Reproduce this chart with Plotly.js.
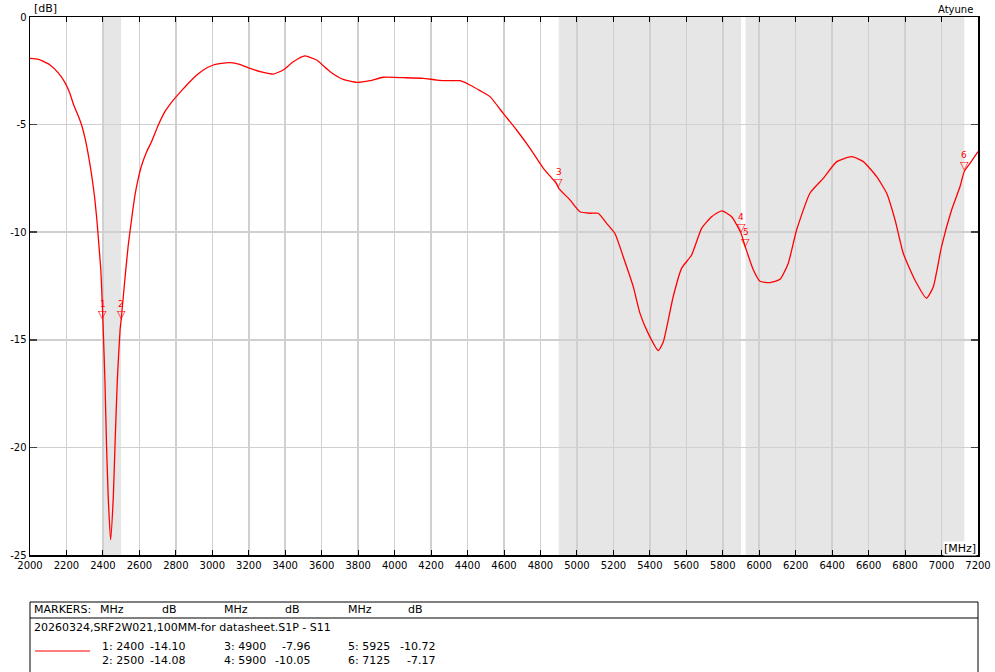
<!DOCTYPE html>
<html>
<head>
<meta charset="utf-8">
<script src="https://cdn.plot.ly/plotly-3.0.1.min.js"></script>
<style>html,body{margin:0;padding:0;background:#fff;}#chart{width:995px;height:672px;}</style>
</head>
<body>
<div id="chart"></div>
<script>
// ---- data ----
const freqMHz = [2000,2046,2110,2155,2192,2219,2238,2265,2283,2302,2320,2338,2353,2366,2378,2389,2400,2411,2420,2429,2442,2457,2466,2479,2494,2500,2521,2539,2558,2576,2594,2613,2640,2667,2704,2740,2786,2823,2850,2878,2915,2951,3005,3050,3097,3150,3207,3280,3335,3389,3444,3508,3572,3646,3718,3792,3865,3938,4048,4157,4231,4304,4359,4413,4468,4523,4596,4669,4743,4816,4889,4900,4962,5017,5072,5117,5163,5209,5254,5309,5346,5391,5446,5474,5528,5574,5629,5684,5739,5794,5849,5900,5925,5968,6004,6059,6114,6159,6205,6278,6351,6425,6507,6571,6644,6699,6745,6790,6854,6918,6955,7000,7055,7101,7125,7156,7200];
const s11dB = [-1.92,-1.97,-2.23,-2.6,-3.05,-3.55,-4.05,-4.6,-5.02,-5.64,-6.41,-7.34,-8.27,-9.35,-10.6,-11.83,-14.10,-16.9,-19.97,-22.3,-24.3,-22.3,-19.97,-16.87,-14.55,-14.08,-12.14,-10.6,-9.35,-8.27,-7.5,-6.88,-6.26,-5.79,-5.02,-4.4,-3.86,-3.5,-3.25,-3.0,-2.7,-2.46,-2.23,-2.15,-2.12,-2.2,-2.39,-2.57,-2.65,-2.46,-2.08,-1.81,-2.0,-2.54,-2.9,-3.04,-2.96,-2.8,-2.82,-2.85,-2.93,-2.96,-2.96,-3.16,-3.42,-3.7,-4.48,-5.25,-6.1,-7.03,-7.76,-7.96,-8.5,-9.05,-9.12,-9.12,-9.59,-10.07,-11.14,-12.53,-13.77,-14.7,-15.5,-15.09,-13.0,-11.68,-11.06,-9.82,-9.28,-9.01,-9.28,-10.05,-10.72,-11.76,-12.28,-12.34,-12.19,-11.45,-9.9,-8.19,-7.5,-6.72,-6.49,-6.72,-7.42,-8.19,-9.43,-10.98,-12.22,-13.07,-12.53,-10.67,-8.97,-7.89,-7.17,-6.8,-6.26];

const markerIds = ['1','2','3','4','5','6'];
const markerFreq = [2400,2500,4900,5900,5925,7125];
const markerDb = [-14.10,-14.08,-7.96,-10.05,-10.72,-7.17];
const markerDbText = ['-14.10','-14.08','-7.96','-10.05','-10.72','-7.17'];

const bandStart = [2400,4900,5925];
const bandEnd = [2500,5900,7125];

const xTickVals = [2000,2200,2400,2600,2800,3000,3200,3400,3600,3800,4000,4200,4400,4600,4800,5000,5200,5400,5600,5800,6000,6200,6400,6600,6800,7000,7200];
const yTickVals = [0,-5,-10,-15,-20,-25];
const yTickText = ['0','-5','-10','-15','-20','-25'];

const traceName = '20260324,SRF2W021,100MM-for datasheet.S1P - S11';
const headerCols = ['MARKERS:','MHz','dB','MHz','dB','MHz','dB'];

// ---- layout helpers ----
const W = 995, H = 672;
const M = {l:30, r:17, t:17, b:117};
const PW = W - M.l - M.r, PH = H - M.t - M.b;
const px = x => (x - M.l) / PW;
const py = y => (H - M.b - y) / PH;
const FONT = 'DejaVu Sans, Verdana, sans-serif';
const RED = '#ff0000';

const shapes = [];
for (let i = 0; i < bandStart.length; i++) {
  shapes.push({type:'rect', xref:'x', yref:'paper', x0:bandStart[i], x1:bandEnd[i], y0:0, y1:1,
    fillcolor:'#e6e6e6', line:{width:0}, layer:'below'});
}
// marker table box
shapes.push({type:'rect', xref:'paper', yref:'paper', x0:px(30), x1:px(978), y0:py(602), y1:py(700),
  line:{color:'#000', width:1}, fillcolor:'rgba(0,0,0,0)'});
shapes.push({type:'line', xref:'paper', yref:'paper', x0:px(30), x1:px(978), y0:py(618), y1:py(618),
  line:{color:'#000', width:1}});
shapes.push({type:'line', xref:'paper', yref:'paper', x0:px(35), x1:px(90), y0:py(651), y1:py(651),
  line:{color:RED, width:1.2}});

const annotations = [];
const txt = (text, x, y, xanchor, size, extra) => Object.assign({
  text, xref:'paper', yref:'paper', x:px(x), y:py(y), xanchor, yanchor:'middle',
  showarrow:false, font:{family:FONT, size:size, color:'#000'}
}, extra || {});

annotations.push(txt('[dB]', 32, 9, 'left', 11));
annotations.push(txt('Atyune', 975, 10, 'right', 10));
annotations.push(txt('[MHz]', 977, 548, 'right', 11, {bgcolor:'#fff', borderpad:0}));

// marker triangles + labels
for (let i = 0; i < markerFreq.length; i++) {
  annotations.push({text:'▽', x:markerFreq[i], y:markerDb[i], xref:'x', yref:'y',
    xanchor:'center', yanchor:'bottom', yshift:-3, showarrow:false,
    font:{family:FONT, size:11, color:RED}});
  annotations.push({text:markerIds[i], x:markerFreq[i], y:markerDb[i], xref:'x', yref:'y',
    xanchor:'center', yanchor:'bottom', yshift:9, showarrow:false,
    font:{family:FONT, size:9, color:RED}});
}

// table header
const headerX = [32, 98, 160, 222, 283, 346, 406];
for (let i = 0; i < headerCols.length; i++) {
  annotations.push(txt(headerCols[i], headerX[i], 609, 'left', 11));
}
annotations.push(txt(traceName, 32, 627, 'left', 11));
const colX = [100, 222, 346];
const dbRightX = [187, 312, 437];
const rowY = [646, 660];
for (let i = 0; i < markerFreq.length; i++) {
  const c = Math.floor(i / 2), r = i % 2;
  annotations.push(txt(markerIds[i] + ': ' + markerFreq[i], colX[c], rowY[r], 'left', 11));
  annotations.push(txt(markerDbText[i], dbRightX[c], rowY[r], 'right', 11));
}

const data = [{
  x: freqMHz, y: s11dB, type:'scatter', mode:'lines',
  line:{color:RED, width:1.3, shape:'spline', smoothing:0.5}, hoverinfo:'x+y', showlegend:false
}];

const layout = {
  width:W, height:H,
  margin:{l:M.l, r:M.r, t:M.t, b:M.b, pad:0},
  paper_bgcolor:'#fff', plot_bgcolor:'#fff',
  showlegend:false,
  font:{family:FONT, size:10, color:'#000'},
  xaxis:{
    range:[2000,7200], tickmode:'array', tickvals:xTickVals, ticktext:xTickVals.map(String),
    showgrid:true, gridcolor:'#d0d0d0', gridwidth:1.5, zeroline:false,
    showline:true, linecolor:'#000', linewidth:1.5, mirror:'ticks',
    ticks:'inside', ticklen:5, tickcolor:'#000', tickwidth:1,
    tickfont:{family:FONT, size:10, color:'#000'}, fixedrange:true
  },
  yaxis:{
    range:[-25,0], tickmode:'array', tickvals:yTickVals, ticktext:yTickText,
    showgrid:true, gridcolor:'#d0d0d0', gridwidth:1.5, zeroline:false,
    showline:true, linecolor:'#000', linewidth:1.5, mirror:'ticks',
    ticks:'inside', ticklen:7, tickcolor:'#444', tickwidth:1.5,
    tickfont:{family:FONT, size:10, color:'#000'}, fixedrange:true
  },
  shapes, annotations
};

Plotly.newPlot('chart', data, layout, {displayModeBar:false, staticPlot:true});
</script>
</body>
</html>
